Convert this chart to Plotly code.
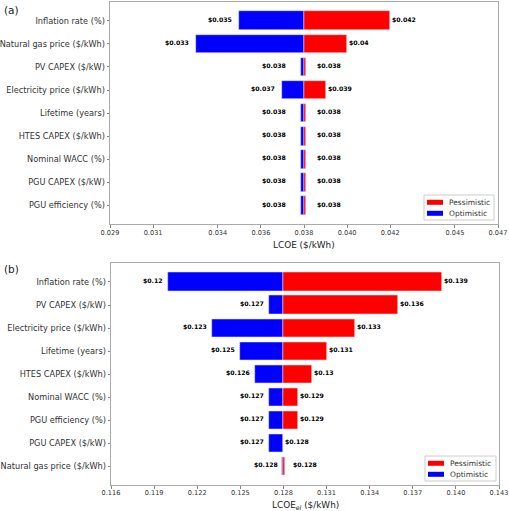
import plotly.graph_objects as go

# ---------------- data ----------------
params_a = ["Inflation rate (%)", "Natural gas price ($/kWh)", "PV CAPEX ($/kW)",
            "Electricity price ($/kWh)", "Lifetime (years)", "HTES CAPEX ($/kWh)",
            "Nominal WACC (%)", "PGU CAPEX ($/kW)", "PGU efficiency (%)"]
base_a = 0.038
opt_a = [0.035, 0.033, 0.03785, 0.037, 0.03785, 0.03785, 0.03785, 0.03785, 0.03785]
pes_a = [0.042, 0.040, 0.03810, 0.039, 0.03810, 0.03810, 0.03810, 0.03810, 0.03810]
ticks_a = [0.029, 0.031, 0.034, 0.036, 0.038, 0.040, 0.042, 0.045, 0.047]
ticktext_a = ["0.029", "0.031", "0.034", "0.036", "0.038", "0.040", "0.042", "0.045", "0.047"]

params_b = ["Inflation rate (%)", "PV CAPEX ($/kW)", "Electricity price ($/kWh)",
            "Lifetime (years)", "HTES CAPEX ($/kWh)", "Nominal WACC (%)",
            "PGU efficiency (%)", "PGU CAPEX ($/kW)", "Natural gas price ($/kWh)"]
base_b = 0.128
opt_b = [0.120, 0.127, 0.123, 0.125, 0.126, 0.127, 0.127, 0.127, 0.12792]
pes_b = [0.139, 0.136, 0.133, 0.131, 0.130, 0.129, 0.129, 0.128, 0.12808]
ticks_b = [0.116, 0.119, 0.122, 0.125, 0.128, 0.131, 0.134, 0.137, 0.140, 0.143]
ticktext_b = ["0.116", "0.119", "0.122", "0.125", "0.128", "0.131", "0.134", "0.137", "0.140", "0.143"]

series_names = ["Pessimistic", "Optimistic"]
RED = "#ff0000"
BLUE = "#0000ff"
series_colors = [RED, BLUE]
FONT = "DejaVu Sans"
W, H = 509, 511


def py(px):
    return 1 - px / H


fig = go.Figure()

panels = [
    dict(params=params_a, base=base_a, opt=opt_a, pes=pes_a, xa="x", ya="y",
         ticks=ticks_a, ticktext=ticktext_a,
         xrange=[0.029, 0.047], dl=0.0005, dr=0.0005, lshift=-5,
         legend_box=(424, 195, 494, 220)),
    dict(params=params_b, base=base_b, opt=opt_b, pes=pes_b, xa="x2", ya="y2",
         ticks=ticks_b, ticktext=ticktext_b,
         xrange=[0.116, 0.143], dl=0.0, dr=0.0005, lshift=-3,
         legend_box=(425, 456, 496, 481)),
]

annotations = []
shapes = []
for p in panels:
    n = len(p["params"])
    idx = list(range(n))
    fig.add_trace(go.Bar(
        y=idx, x=[v - p["base"] for v in p["pes"]], base=p["base"], orientation="h",
        width=0.8, marker=dict(color=RED, line=dict(color="rgba(255,225,225,0.9)", width=0.6)),
        name=series_names[0], xaxis=p["xa"], yaxis=p["ya"], showlegend=False,
        hoverinfo="skip"))
    fig.add_trace(go.Bar(
        y=idx, x=[v - p["base"] for v in p["opt"]], base=p["base"], orientation="h",
        width=0.8, marker=dict(color=BLUE, line=dict(color="rgba(225,225,255,0.9)", width=0.6)),
        name=series_names[1], xaxis=p["xa"], yaxis=p["ya"], showlegend=False,
        hoverinfo="skip"))
    xref = p["xa"]
    yref = p["ya"]
    for i in idx:
        o = p["opt"][i]
        s = p["pes"][i]
        thin_o = 0 < (p["base"] - o) < 0.0005
        thin_s = 0 < (s - p["base"]) < 0.0005
        lx = (p["base"] - p["dl"]) if thin_o else o
        rx = (p["base"] + p["dr"]) if thin_s else s
        annotations.append(dict(x=lx, y=i, xref=xref, yref=yref, text="$" + str(round(o, 3)),
                                showarrow=False, xanchor="right", yanchor="middle",
                                xshift=p["lshift"], yshift=1.5,
                                font=dict(family=FONT, size=6.2, color="black", weight="bold")))
        annotations.append(dict(x=rx, y=i, xref=xref, yref=yref, text="$" + str(round(s, 3)),
                                showarrow=False, xanchor="left", yanchor="middle",
                                xshift=0, yshift=1.5,
                                font=dict(family=FONT, size=6.2, color="black", weight="bold")))
    # compact matplotlib-style legend
    x0, y0, x1, y1 = p["legend_box"]
    shapes.append(dict(type="rect", xref="paper", yref="paper",
                       x0=x0 / W, x1=x1 / W, y0=py(y1), y1=py(y0),
                       fillcolor="rgba(255,255,255,0.85)", line=dict(color="#cccccc", width=1)))
    for k, (nm, col) in enumerate(zip(series_names, series_colors)):
        cy = y0 + 7.3 + k * 11
        shapes.append(dict(type="rect", xref="paper", yref="paper",
                           x0=(x0 + 3) / W, x1=(x0 + 19) / W,
                           y0=py(cy + 2.5), y1=py(cy - 2.5),
                           fillcolor=col, line=dict(width=0)))
        annotations.append(dict(x=(x0 + 23) / W, y=py(cy), xref="paper", yref="paper",
                                text=nm, showarrow=False, xanchor="left", yanchor="middle",
                                font=dict(family=FONT, size=7.5, color="#333")))

# panel labels and axis titles
annotations += [
    dict(x=2 / W, y=py(10), xref="paper", yref="paper", text="(a)", showarrow=False,
         xanchor="left", yanchor="middle", font=dict(family=FONT, size=10.5, color="#222")),
    dict(x=2 / W, y=py(268.5), xref="paper", yref="paper", text="(b)", showarrow=False,
         xanchor="left", yanchor="middle", font=dict(family=FONT, size=10.5, color="#222")),
    dict(x=304 / W, y=py(245), xref="paper", yref="paper", text="LCOE ($/kWh)", showarrow=False,
         xanchor="center", yanchor="middle", font=dict(family=FONT, size=8.9, color="#222")),
    dict(x=305 / W, y=py(505), xref="paper", yref="paper",
         text="LCOE<sub><i>el</i></sub> ($/kWh)", showarrow=False,
         xanchor="center", yanchor="middle", font=dict(family=FONT, size=8.9, color="#222")),
]

axis_common = dict(showline=True, mirror=True, linecolor="#aaaaaa", linewidth=1,
                   showgrid=False, zeroline=False, ticks="outside", ticklen=2.5,
                   tickcolor="#888888", tickwidth=0.8, automargin=False)

fig.update_layout(
    width=W, height=H, margin=dict(l=0, r=0, t=0, b=0),
    paper_bgcolor="white", plot_bgcolor="white",
    barmode="overlay", bargap=0, showlegend=False,
    font=dict(family=FONT, color="#333333"),
    xaxis=dict(domain=[110 / W, 498 / W], anchor="y", range=panels[0]["xrange"],
               tickvals=ticks_a, ticktext=ticktext_a, tickfont=dict(size=6.6, color="#333"),
               ticklabelstandoff=-1, **axis_common),
    yaxis=dict(domain=[py(224.3), py(2)], anchor="x", range=[8.81, -0.81],
               tickvals=list(range(len(params_a))), ticktext=params_a,
               tickfont=dict(size=8.2, color="#333"), ticklabelstandoff=0, **axis_common),
    xaxis2=dict(domain=[111 / W, 499 / W], anchor="y2", range=panels[1]["xrange"],
                tickvals=ticks_b, ticktext=ticktext_b, tickfont=dict(size=6.6, color="#333"),
                ticklabelstandoff=-1, **axis_common),
    yaxis2=dict(domain=[py(485), py(263.3)], anchor="x2", range=[8.81, -0.81],
                tickvals=list(range(len(params_b))), ticktext=params_b,
                tickfont=dict(size=8.2, color="#333"), ticklabelstandoff=0, **axis_common),
    annotations=annotations,
    shapes=shapes,
)

fig.write_html("out.html", config={"displayModeBar": False},
               post_script="document.body.style.margin='0';document.body.style.overflow='hidden';")
